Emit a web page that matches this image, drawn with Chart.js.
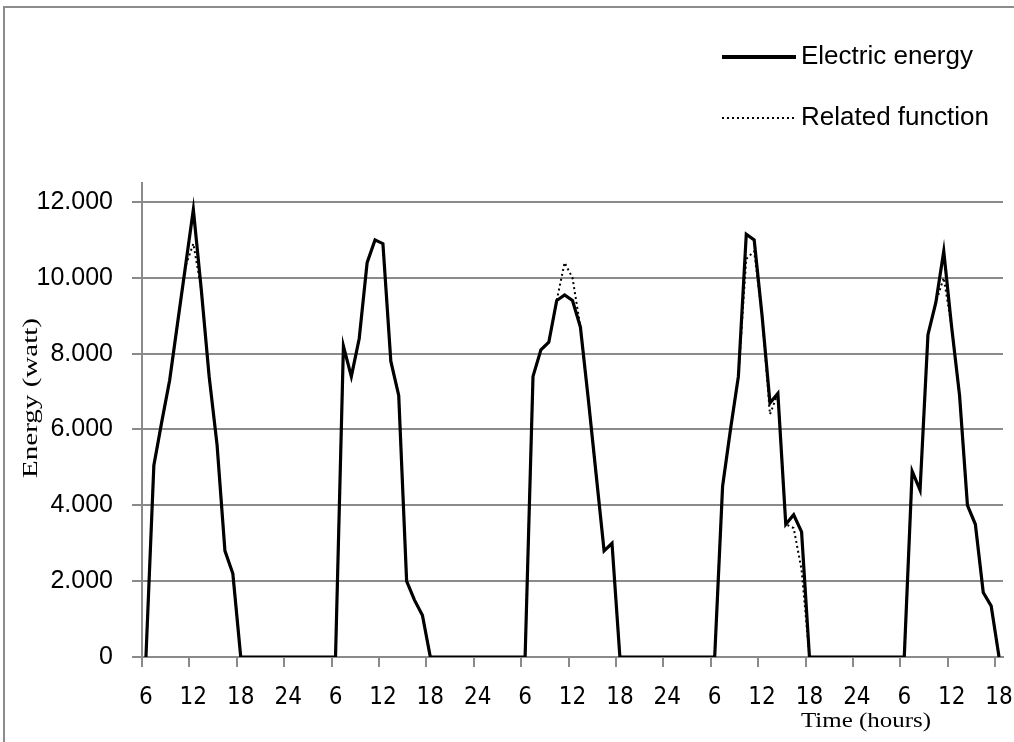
<!DOCTYPE html>
<html>
<head>
<meta charset="utf-8">
<title>Electric energy</title>
<script src="https://cdn.jsdelivr.net/npm/chart.js@4.4.1/dist/chart.umd.min.js"></script>
<style>
  html, body { margin: 0; padding: 0; background: #ffffff; }
  #wrap { position: relative; width: 1014px; height: 742px; }
</style>
</head>
<body>
<div id="wrap"><canvas id="chart" width="1014" height="742"></canvas></div>
<script>
// Hour of day for each hourly sample: day 1 from 6 h, days 2-4 complete, day 5 up to 18 h
const hourLabels = [
  6, 7, 8, 9, 10, 11, 12, 13, 14, 15, 16, 17, 18, 19, 20, 21, 22, 23, 24,
  1, 2, 3, 4, 5, 6, 7, 8, 9, 10, 11, 12, 13, 14, 15, 16, 17, 18, 19, 20, 21, 22, 23, 24,
  1, 2, 3, 4, 5, 6, 7, 8, 9, 10, 11, 12, 13, 14, 15, 16, 17, 18, 19, 20, 21, 22, 23, 24,
  1, 2, 3, 4, 5, 6, 7, 8, 9, 10, 11, 12, 13, 14, 15, 16, 17, 18, 19, 20, 21, 22, 23, 24,
  1, 2, 3, 4, 5, 6, 7, 8, 9, 10, 11, 12, 13, 14, 15, 16, 17, 18
];

// Measured electric energy (watt), one value per hour
const electricEnergy = [
  0, 5050, 6200, 7300, 8800, 10300, 11800, 9700, 7400, 5600, 2800, 2200, 0, 0, 0, 0, 0, 0, 0,
  0, 0, 0, 0, 0, 0, 8200, 7400, 8400, 10400, 11000, 10900, 7800, 6900, 2000, 1500, 1100, 0, 0, 0, 0, 0, 0, 0,
  0, 0, 0, 0, 0, 0, 7400, 8100, 8300, 9400, 9550, 9400, 8700, 6800, 4800, 2800, 3000, 0, 0, 0, 0, 0, 0, 0,
  0, 0, 0, 0, 0, 0, 4500, 6000, 7400, 11150, 11000, 9000, 6700, 6950, 3500, 3750, 3300, 0, 0, 0, 0, 0, 0, 0,
  0, 0, 0, 0, 0, 0, 4900, 4400, 8500, 9350, 10700, 8700, 6900, 4000, 3500, 1700, 1350, 0
];

// Values of the related (fitted) function at the same hours
const relatedFunction = [
  0, 5050, 6200, 7300, 8800, 10300, 10900, 9700, 7400, 5600, 2800, 2200, 0, 0, 0, 0, 0, 0, 0,
  0, 0, 0, 0, 0, 0, 8200, 7400, 8400, 10400, 11000, 10900, 7800, 6900, 2000, 1500, 1100, 0, 0, 0, 0, 0, 0, 0,
  0, 0, 0, 0, 0, 0, 7400, 8100, 8300, 9400, 10400, 10000, 8700, 6800, 4800, 2800, 3000, 0, 0, 0, 0, 0, 0, 0,
  0, 0, 0, 0, 0, 0, 4500, 6000, 7400, 10500, 10700, 9000, 6400, 6950, 3500, 3400, 2300, 0, 0, 0, 0, 0, 0, 0,
  0, 0, 0, 0, 0, 0, 4900, 4400, 8500, 9350, 10000, 8700, 6900, 4000, 3500, 1700, 1350, 0
];

// Energy axis tick values
const energyTicks = [0, 2000, 4000, 6000, 8000, 10000, 12000];

const seriesNames = ['Electric energy', 'Related function'];
const axisTitles = { x: 'Time (hours)', y: 'Energy (watt)' };

const GRID = '#8a8a8a';
const SANS = '"Liberation Sans", Arial, sans-serif';
const NARROW = '"Liberation Sans Narrow", "DejaVu Sans Condensed", "Liberation Sans", sans-serif';
const SERIF = '"Liberation Serif", "Times New Roman", serif';

function thousands(v) {
  return String(v).replace(/\B(?=(\d{3})+(?!\d))/g, '.');
}

// Outer frame, stacked key in the top-right corner and the axis titles
const chartDecor = {
  id: 'chartDecor',
  beforeDraw(chart) {
    const ctx = chart.ctx;
    ctx.save();
    ctx.strokeStyle = '#8c8c8c';
    ctx.lineWidth = 2;
    ctx.strokeRect(4, 7, 1200, 900);
    ctx.restore();
  },
  afterDraw(chart) {
    const ctx = chart.ctx;
    ctx.save();

    // key
    const keyRows = [57, 118];
    chart.data.datasets.forEach((ds, i) => {
      const y = keyRows[i];
      ctx.beginPath();
      ctx.strokeStyle = ds.borderColor;
      ctx.lineWidth = i === 0 ? 4 : 2.2;
      ctx.setLineDash(ds.borderDash || []);
      ctx.moveTo(722, y);
      ctx.lineTo(796, y);
      ctx.stroke();
      ctx.setLineDash([]);
      ctx.fillStyle = '#000';
      ctx.font = '26px ' + SANS;
      ctx.textAlign = 'left';
      ctx.textBaseline = 'middle';
      ctx.fillText(ds.label, 801, y);
    });

    // x-axis title, right part below the tick labels
    ctx.font = '22px ' + SERIF;
    ctx.textAlign = 'center';
    ctx.textBaseline = 'middle';
    const tw = ctx.measureText(axisTitles.x).width;
    ctx.save();
    ctx.translate(866, 721);
    ctx.scale(130 / tw, 1);
    ctx.fillText(axisTitles.x, 0, 0);
    ctx.restore();

    // y-axis title, rotated
    ctx.font = '21px ' + SERIF;
    const yw = ctx.measureText(axisTitles.y).width;
    ctx.save();
    ctx.translate(31, 398);
    ctx.rotate(-Math.PI / 2);
    ctx.scale(160 / yw, 1);
    ctx.fillText(axisTitles.y, 0, 0);
    ctx.restore();

    ctx.restore();
  }
};

new Chart(document.getElementById('chart'), {
  type: 'line',
  data: {
    labels: hourLabels,
    datasets: [
      {
        label: seriesNames[0],
        data: electricEnergy,
        borderColor: '#000000',
        borderWidth: 3.2,
        pointRadius: 0,
        tension: 0,
        fill: false
      },
      {
        label: seriesNames[1],
        data: relatedFunction,
        borderColor: '#000000',
        borderWidth: 2,
        borderDash: [2, 3],
        pointRadius: 0,
        tension: 0,
        fill: false
      }
    ]
  },
  options: {
    responsive: false,
    animation: false,
    layout: { padding: { top: 183, right: 11, left: 0, bottom: 0 } },
    plugins: {
      legend: { display: false },
      tooltip: { enabled: false }
    },
    scales: {
      x: {
        type: 'category',
        offset: true,
        grid: {
          offset: true,
          drawOnChartArea: false,
          drawTicks: true,
          tickLength: 10,
          lineWidth: 2,
          color: (c) => (c.index % 6 === 0 ? GRID : 'rgba(0,0,0,0)')
        },
        border: { color: GRID, width: 2 },
        ticks: {
          autoSkip: false,
          maxRotation: 0,
          minRotation: 0,
          padding: 16,
          color: '#000',
          font: { family: NARROW, size: 24 },
          callback: (v, i) => (i % 6 === 0 ? String(hourLabels[i]) : '')
        },
        afterFit: (s) => {
          s.height = 742 - 657;
          s.paddingLeft = 0;
          s.paddingRight = 0;
        }
      },
      y: {
        min: 0,
        max: 12500,
        afterBuildTicks: (s) => { s.ticks = energyTicks.map((v) => ({ value: v })); },
        grid: { color: GRID, lineWidth: 2, tickLength: 10 },
        border: { color: GRID, width: 2 },
        ticks: {
          padding: 19,
          color: '#000',
          font: { family: SANS, size: 25 },
          callback: (v) => thousands(v)
        },
        afterFit: (s) => {
          s.width = 142;
          s.paddingTop = 0;
          s.paddingBottom = 0;
        }
      }
    }
  },
  plugins: [chartDecor]
});
</script>
</body>
</html>
